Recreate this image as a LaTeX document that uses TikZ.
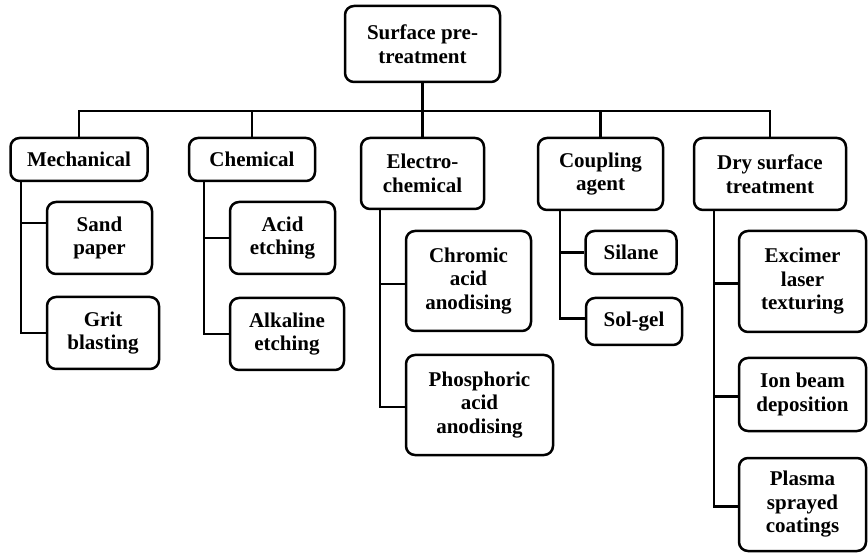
\documentclass[tikz,border=0pt]{standalone}
\usepackage{fontspec}
\setmainfont{Liberation Serif}
\begin{document}
\begin{tikzpicture}[x=1pt,y=-1pt,line width=2.5pt,
      b/.style={rectangle,rounded corners=9pt,draw,align=center,inner sep=1pt,
        font=\bfseries\fontsize{21}{23.5}\selectfont},
      sz/.style 2 args={minimum width=#1,minimum height=#2}]
    \useasboundingbox (0,0) rectangle (868,553);
    \node[b,sz={155pt}{76pt}] (root) at (422.5,44) {Surface pre-\\treatment};
    \node[b,sz={137pt}{43pt}] (mech) at (79,159.5) {Mechanical};
    \node[b,sz={126pt}{43pt}] (chem) at (252,159.5) {Chemical};
    \node[b,sz={123pt}{71pt}] (elec) at (422.5,173.5) {Electro-\\chemical};
    \node[b,sz={125pt}{72pt}] (coup) at (600.5,174) {Coupling\\agent};
    \node[b,sz={152pt}{72pt}] (dry) at (770,174) {Dry surface\\treatment};
    \node[b,sz={105pt}{72pt}] (sand) at (99.5,238) {Sand\\paper};
    \node[b,sz={112pt}{72pt}] (grit) at (103,333) {Grit\\blasting};
    \node[b,sz={105pt}{72pt}] (acid) at (282.5,238) {Acid\\etching};
    \node[b,sz={114pt}{72pt}] (alk) at (287,334) {Alkaline\\etching};
    \node[b,sz={125pt}{100pt}] (chrom) at (468.5,281) {Chromic\\acid\\anodising};
    \node[b,sz={147pt}{100pt}] (phos) at (479.5,405) {Phosphoric\\acid\\anodising};
    \node[b,sz={91pt}{43pt}] (silane) at (631,252.5) {Silane};
    \node[b,sz={96pt}{47pt}] (solgel) at (634,321.5) {Sol-gel};
    \node[b,sz={127pt}{101pt}] (exc) at (802.5,281.5) {Excimer\\laser\\texturing};
    \node[b,sz={127pt}{73pt}] (ion) at (802.5,394.5) {Ion beam\\deposition};
    \node[b,sz={127pt}{93pt}] (plasma) at (802.5,504.5) {Plasma\\sprayed\\coatings};
    \coordinate (bus) at (0,111);
    \draw (root.south) -- (root.south |- bus);
    \draw (mech.north) -- (mech.north |- bus) -- (dry.north |- bus) -- (dry.north);
    \foreach \n in {chem,elec,coup}
      \draw (\n.north) -- (\n.north |- bus);
    \draw ([xshift=11.5pt]mech.south west) |- ([yshift=15pt]sand.west);
    \draw ([xshift=11.5pt]mech.south west) |- (grit.west);
    \draw ([xshift=16pt]chem.south west) |- (acid.west);
    \draw ([xshift=16pt]chem.south west) |- (alk.west);
    \draw ([xshift=20pt]elec.south west) |- ([yshift=-3pt]chrom.west);
    \draw ([xshift=20pt]elec.south west) |- ([yshift=-2pt]phos.west);
    \draw ([xshift=23pt]coup.south west) |- (silane.west);
    \draw ([xshift=23pt]coup.south west) |- ([yshift=3pt]solgel.west);
    \draw ([xshift=21pt]dry.south west) |- ([yshift=-2pt]exc.west);
    \draw ([xshift=21pt]dry.south west) |- ([yshift=-2pt]ion.west);
    \draw ([xshift=21pt]dry.south west) |- ([yshift=-2pt]plasma.west);
  \end{tikzpicture}
\end{document}
